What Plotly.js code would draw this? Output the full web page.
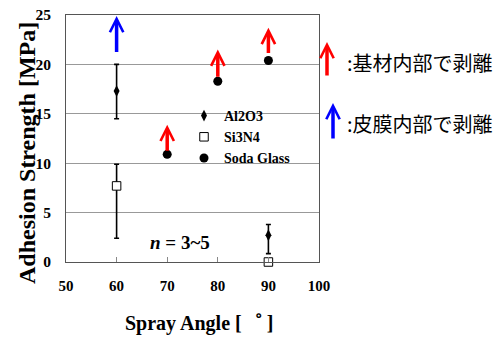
<!DOCTYPE html>
<html><head><meta charset="utf-8">
<script src="https://cdn.plot.ly/plotly-3.0.1.min.js"></script>
<style>html,body{margin:0;padding:0;background:#fff}#chart{width:499px;height:343px}</style>
</head><body><div id="chart"></div><script>
// ---- data ----
const seriesNames = ['Al2O3', 'Si3N4', 'Soda Glass'];
const al2o3Angle = [60, 90];
const al2o3Strength = [17.3, 2.7];
const al2o3ErrPlus = [2.7, 1.1];
const al2o3ErrMinus = [2.8, 1.85];
const si3n4Angle = [60, 90];
const si3n4Strength = [7.7, 0];
const si3n4ErrPlus = [2.2, 0];
const si3n4ErrMinus = [5.3, 0];
const sodaAngle = [70, 80, 90];
const sodaStrength = [10.9, 18.3, 20.4];
// failure-mode arrows (angle, start strength, end strength, mode)
const arrowAngle = [60, 70, 80, 90];
const arrowFrom = [21.1, 11.1, 18.6, 21.0];
const arrowTo = [24.9, 13.9, 21.5, 23.7];
const arrowMode = ['film', 'substrate', 'substrate', 'substrate'];
const modeKeys = ['substrate', 'film'];
const modeLabels = [':基材内部で剥離', ':皮膜内部で剥離'];
const xTickVals = [50, 60, 70, 80, 90, 100];
const yTickVals = [0, 5, 10, 15, 20, 25];
const sampleNote = '<i>n</i> = 3~5';
const xTitle = 'Spray Angle [゜ ]';
const yTitle = 'Adhesion Strength [MPa]';

// ---- style ----
const modeColor = {substrate: '#ff0000', film: '#0000ff'};
const serif = 'Liberation Serif, Times New Roman, serif';
const cjk = 'Noto Sans CJK JP, sans-serif';
const L = 66, R = 319, T = 15, B = 262;
const px = p => (p - L) / (R - L);
const py = p => (B - p) / (B - T);

const errStyle = {color: '#000', thickness: 1.6, width: 2.5};
const traces = [
  {type: 'scatter', mode: 'markers', name: seriesNames[0], x: al2o3Angle, y: al2o3Strength,
   marker: {symbol: 'diamond-tall', size: 8.5, color: '#000'}, cliponaxis: false,
   error_y: Object.assign({type: 'data', symmetric: false, array: al2o3ErrPlus, arrayminus: al2o3ErrMinus}, errStyle)},
  {type: 'scatter', mode: 'markers', name: seriesNames[1], x: si3n4Angle, y: si3n4Strength,
   marker: {symbol: 'square', size: 8.5, color: '#fff', line: {color: '#000', width: 1}}, cliponaxis: false,
   error_y: Object.assign({type: 'data', symmetric: false, array: si3n4ErrPlus, arrayminus: si3n4ErrMinus}, errStyle)},
  {type: 'scatter', mode: 'markers', name: seriesNames[2], x: sodaAngle, y: sodaStrength,
   marker: {symbol: 'circle', size: 9, color: '#000'}, cliponaxis: false}
];

const annotations = [];
arrowAngle.forEach((a, i) => {
  annotations.push({x: a, y: arrowTo[i], ax: a, ay: arrowFrom[i], xref: 'x', yref: 'y', axref: 'x', ayref: 'y',
    text: '', showarrow: true, arrowhead: 5, arrowsize: 0.75, arrowwidth: 3.5, standoff: 0,
    arrowcolor: modeColor[arrowMode[i]]});
});
// key for arrows
const keyArrowX = [327, 333], keyArrowTop = [42, 103], keyArrowLen = [35, 37], keyTextY = [62.5, 123];
modeKeys.forEach((m, i) => {
  annotations.push({x: px(keyArrowX[i]), y: py(keyArrowTop[i]), xref: 'paper', yref: 'paper',
    ax: 0, ay: keyArrowLen[i], text: '', showarrow: true, arrowhead: 5, arrowsize: 0.75, arrowwidth: 3.5,
    standoff: 0, arrowcolor: modeColor[m]});
  annotations.push({x: px(346), y: py(keyTextY[i]), xref: 'paper', yref: 'paper', xanchor: 'left', yanchor: 'middle',
    text: modeLabels[i], showarrow: false, borderpad: 0, font: {family: cjk, size: 20, color: '#000'}});
});
annotations.push({x: px(180), y: py(242), xref: 'paper', yref: 'paper', xanchor: 'center', yanchor: 'middle',
  text: sampleNote, showarrow: false, font: {family: serif, size: 19, color: '#000', weight: 'bold'}});
annotations.push({x: px(27), y: py(153), xref: 'paper', yref: 'paper', xanchor: 'center', yanchor: 'middle',
  textangle: -90, text: yTitle, showarrow: false, font: {family: serif, size: 24, color: '#000', weight: 'bold'}});
annotations.push({x: px(199), y: py(323), xref: 'paper', yref: 'paper', xanchor: 'center', yanchor: 'middle',
  text: xTitle, showarrow: false, font: {family: serif, size: 20, color: '#000', weight: 'bold'}});

const layout = {
  width: 499, height: 343,
  margin: {l: L, r: 499 - R, t: T, b: 343 - B, pad: 0},
  paper_bgcolor: '#fff', plot_bgcolor: '#fff',
  showlegend: true,
  legend: {x: px(184), y: py(100), xanchor: 'left', yanchor: 'top', bgcolor: 'rgba(0,0,0,0)',
    font: {family: serif, size: 14, color: '#000', weight: 'bold'}, tracegroupgap: 0},
  xaxis: {range: [50, 100], tickvals: xTickVals, ticks: 'inside', ticklen: 5, tickcolor: '#888',
    showgrid: false, zeroline: false, showline: true, linecolor: '#555', linewidth: 1, mirror: true,
    ticklabelstandoff: 10, tickfont: {family: serif, size: 15, color: '#000', weight: 'bold'}, fixedrange: true},
  yaxis: {range: [0, 25], tickvals: yTickVals, ticks: '', showgrid: true, gridcolor: '#999', gridwidth: 1,
    zeroline: false, showline: true, linecolor: '#555', linewidth: 1, mirror: true,
    ticklabelstandoff: 11, tickfont: {family: serif, size: 15.5, color: '#000', weight: 'bold'}, fixedrange: true},
  shapes: [{type: 'rect', xref: 'paper', yref: 'paper', x0: px(201), x1: px(302), y0: py(170), y1: py(104),
    fillcolor: '#fff', line: {width: 0}, layer: 'between'}],
  annotations: annotations
};
Plotly.newPlot('chart', traces, layout, {staticPlot: true, displayModeBar: false});
</script></body></html>
